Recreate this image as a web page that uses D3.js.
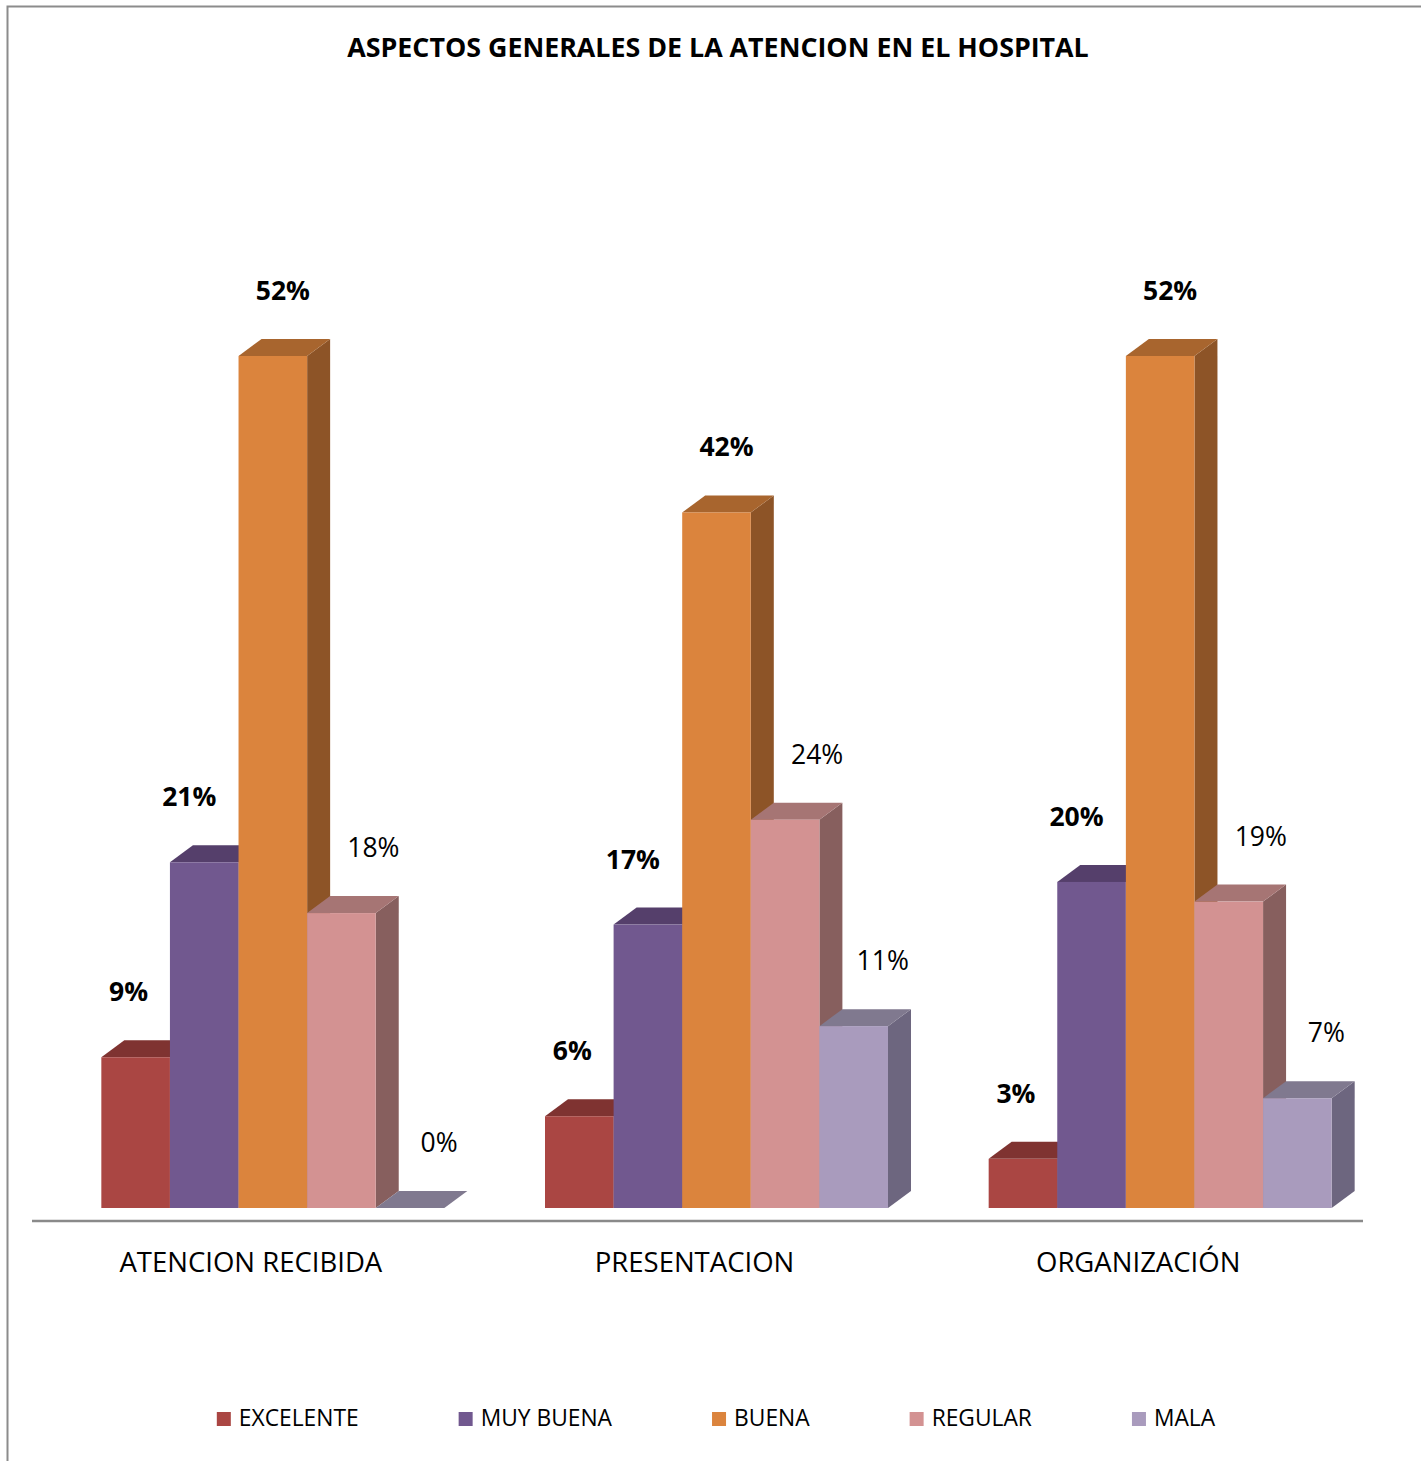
<!DOCTYPE html>
<html><head><meta charset="utf-8">
<script src="https://cdn.jsdelivr.net/npm/d3@7"></script>
<style>body{margin:0;background:#fff}svg{display:block}text{font-family:"Open Sans",sans-serif;fill:#000}</style>
</head><body>
<script>
const title = "ASPECTOS GENERALES DE LA ATENCION EN EL HOSPITAL";
const categories = ["ATENCION RECIBIDA", "PRESENTACION", "ORGANIZACIÓN"];
const seriesNames = ["EXCELENTE", "MUY BUENA", "BUENA", "REGULAR", "MALA"];
const excelente = [0.092, 0.056, 0.030];
const muyBuena  = [0.211, 0.173, 0.199];
const buena     = [0.520, 0.4245, 0.520];
const regular   = [0.180, 0.237, 0.187];
const mala      = [0.000, 0.111, 0.067];
const seriesValues = [excelente, muyBuena, buena, regular, mala];

const frontColors = ["#AA4643", "#71588F", "#DB843D", "#D39292", "#A99BBD"];
const topColors   = ["#7F3331", "#553F6B", "#A8652E", "#A67574", "#80798F"];
const sideColors  = ["#833432", "#5A4671", "#8D5427", "#875F5E", "#6D667F"];
const boldLabel   = [true, true, true, false, false];
const labelDx     = [-7, -15, 10, 32, 29];

const W = 1421, H = 1461;
const svg = d3.select("body").append("svg").attr("width", W).attr("height", H);

// chart border
svg.append("rect").attr("x", 7.5).attr("y", 6.5).attr("width", W + 20).attr("height", H + 20)
  .attr("fill", "none").attr("stroke", "#8c8c8c").attr("stroke-width", 2);

svg.append("text").attr("x", 718).attr("y", 57).attr("text-anchor", "middle")
  .attr("font-weight", "bold").attr("font-size", 26.8).text(title);

const baseY = 1208, axisY = 1221, depthX = 23, depthY = 17;
const x0 = d3.scaleBand().domain(categories).range([32, 1363]);
const groupW = 343, shift = 19;
const x1 = d3.scaleBand().domain(seriesNames).range([0, groupW]);
const y = d3.scaleLinear().domain([0, 0.52]).range([baseY, 356]);

// axis line
svg.append("line").attr("x1", 32).attr("x2", 1363).attr("y1", axisY).attr("y2", axisY)
  .attr("stroke", "#8a8a8a").attr("stroke-width", 2.5);

const xAxis = d3.axisBottom(x0).tickSize(0).tickPadding(0);
const gx = svg.append("g").attr("transform", `translate(0,${axisY})`).call(xAxis);
gx.select(".domain").remove();
gx.selectAll("text").attr("font-size", 27.5).attr("dy", 0).attr("y", 51).attr("dx", -3)
  .style("font-family", '"Open Sans",sans-serif').attr("fill", "#000");

const fmt = d3.format(".0%");
categories.forEach((cat, ci) => {
  const gx0 = x0(cat) + (x0.bandwidth() - groupW) / 2 + shift;
  seriesNames.forEach((s, si) => {
    const v = seriesValues[si][ci];
    const xl = gx0 + x1(s), xr = xl + x1.bandwidth(), yt = y(v);
    const g = svg.append("g");
    // side
    g.append("polygon").attr("fill", sideColors[si])
      .attr("points", [[xr, yt], [xr + depthX, yt - depthY], [xr + depthX, baseY - depthY], [xr, baseY]].join(" "));
    // top
    g.append("polygon").attr("fill", topColors[si])
      .attr("points", [[xl, yt], [xl + depthX, yt - depthY], [xr + depthX, yt - depthY], [xr, yt]].join(" "));
    // front
    g.append("rect").attr("x", xl).attr("y", yt).attr("width", xr - xl).attr("height", baseY - yt)
      .attr("fill", frontColors[si]);
  });
  seriesNames.forEach((s, si) => {
    const v = seriesValues[si][ci];
    const cx = gx0 + x1(s) + x1.bandwidth() / 2 + labelDx[si];
    svg.append("text").attr("x", cx).attr("y", y(v) - depthY - 39)
      .attr("text-anchor", "middle").attr("font-size", 26.5)
      .attr("font-weight", boldLabel[si] ? "bold" : "normal").text(fmt(v));
  });
});

// legend
const lg = svg.append("g");
const items = seriesNames.map((s, i) => {
  const g = lg.append("g");
  g.append("rect").attr("width", 14).attr("height", 14).attr("y", -14).attr("fill", frontColors[i]);
  const t = g.append("text").attr("x", 22).attr("y", 0).attr("font-size", 22.8).text(s);
  return {g, w: 22 + t.node().getComputedTextLength()};
});
const gap = 100;
const total = d3.sum(items, d => d.w) + gap * (items.length - 1);
let lx = 716 - total / 2;
items.forEach(it => { it.g.attr("transform", `translate(${lx},1426)`); lx += it.w + gap; });
</script>
</body></html>
